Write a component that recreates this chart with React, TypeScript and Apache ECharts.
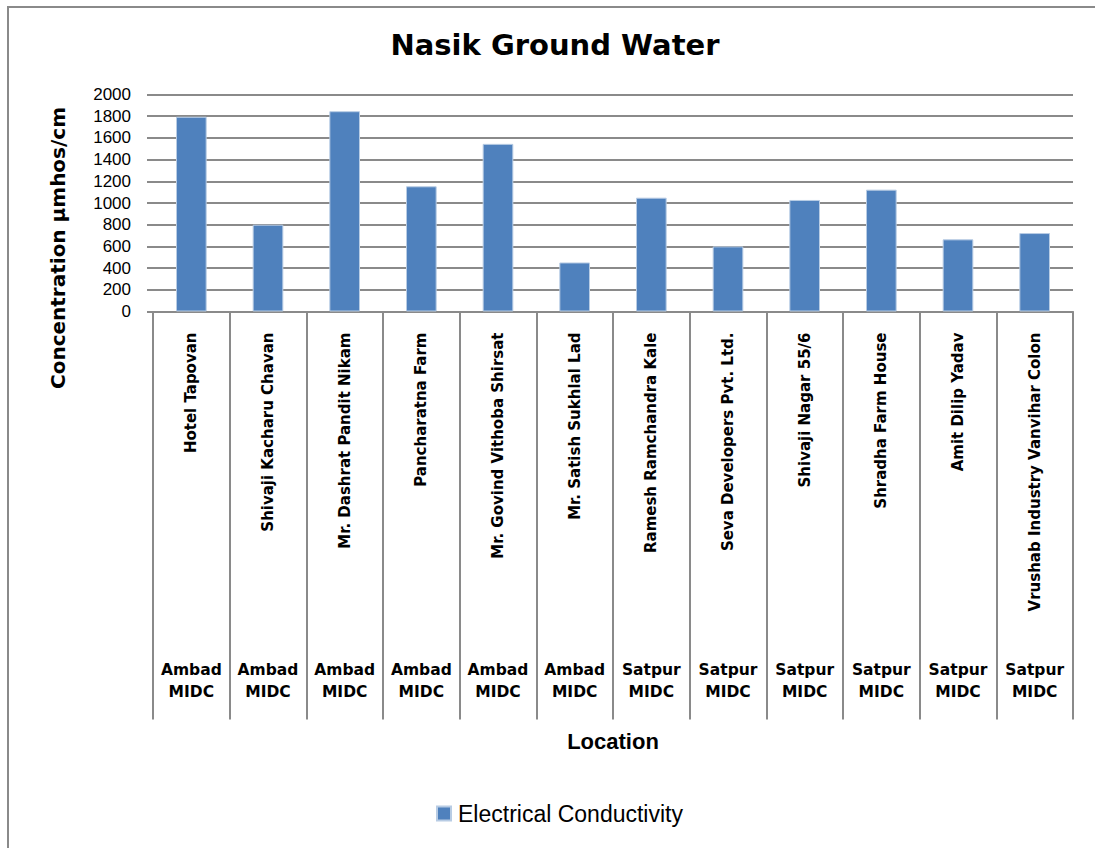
import React, { useEffect, useRef } from "react";
import * as echarts from "echarts";

const categories = [
  "Hotel Tapovan",
  "Shivaji Kacharu Chavan",
  "Mr. Dashrat Pandit Nikam",
  "Pancharatna Farm",
  "Mr. Govind Vithoba Shirsat",
  "Mr. Satish Sukhlal Lad",
  "Ramesh Ramchandra Kale",
  "Seva Developers Pvt. Ltd.",
  "Shivaji Nagar 55/6",
  "Shradha Farm House",
  "Amit Dilip Yadav",
  "Vrushab Industry Vanvihar Colon",
];
const groups = [
  "Ambad\nMIDC", "Ambad\nMIDC", "Ambad\nMIDC", "Ambad\nMIDC", "Ambad\nMIDC", "Ambad\nMIDC",
  "Satpur\nMIDC", "Satpur\nMIDC", "Satpur\nMIDC", "Satpur\nMIDC", "Satpur\nMIDC", "Satpur\nMIDC",
];
const conductivity = [1795, 800, 1846, 1154, 1545, 452, 1049, 600, 1028, 1123, 665, 723];
const seriesName = "Electrical Conductivity";
const chartTitle = "Nasik Ground Water";
const yAxisTitle = "Concentration µmhos/cm";
const xAxisTitle = "Location";

export default function App() {
  const ref = useRef<HTMLDivElement>(null);
  useEffect(() => {
    if (!ref.current) return;
    const chart = echarts.init(ref.current, undefined, { renderer: "svg" });
    const gray = "#8a8a8a";
    chart.setOption({
      animation: false,
      backgroundColor: "#ffffff",
      grid: { left: 153, right: 22, top: 94.5, bottom: 536.5, containLabel: false },
      xAxis: [
        {
          type: "category",
          data: categories,
          position: "bottom",
          axisLine: { show: true, onZero: false, lineStyle: { color: gray, width: 2 } },
          axisTick: { show: true, interval: 0, length: 408, lineStyle: { color: gray, width: 2 } },
          axisLabel: {
            interval: 0,
            rotate: 90,
            margin: 21,
            color: "#000",
            fontFamily: "DejaVu Sans",
            fontWeight: "bold",
            fontSize: 15,
          },
        },
        {
          type: "category",
          data: groups,
          position: "bottom",
          axisLine: { show: false, onZero: false },
          axisTick: { show: false },
          axisLabel: {
            interval: 0,
            margin: 347,
            color: "#000",
            fontFamily: "DejaVu Sans",
            fontWeight: "bold",
            fontSize: 15.5,
            lineHeight: 22,
          },
        },
      ],
      yAxis: {
        type: "value",
        min: 0,
        max: 2000,
        interval: 200,
        axisLine: { show: false },
        axisTick: { show: true, length: 6, lineStyle: { color: gray, width: 2 } },
        axisLabel: {
          margin: 22,
          color: "#000",
          fontFamily: "Liberation Sans",
          fontSize: 17,
          formatter: (v: number) => String(v),
        },
        splitLine: { show: true, lineStyle: { color: gray, width: 2 } },
      },
      legend: {
        data: [seriesName],
        left: 431,
        top: 797,
        icon: "rect",
        itemWidth: 14,
        itemHeight: 14,
        textStyle: {
          color: "#000",
          fontFamily: "Liberation Sans",
          fontSize: 23,
          padding: [0, 0, 0, 2],
        },
      },
      graphic: [
        {
          type: "rect",
          shape: { x: 8, y: 7, width: 1200, height: 1000 },
          style: { fill: "none", stroke: gray, lineWidth: 2 },
          silent: true,
        },
        {
          type: "text",
          x: 555,
          y: 45,
          style: {
            text: chartTitle,
            fill: "#000",
            font: 'bold 29px "DejaVu Sans"',
            align: "center",
            verticalAlign: "middle",
          },
        },
        {
          type: "text",
          x: 58,
          y: 248,
          rotation: Math.PI / 2,
          style: {
            text: yAxisTitle,
            fill: "#000",
            font: 'bold 20px "DejaVu Sans"',
            align: "center",
            verticalAlign: "middle",
          },
        },
        {
          type: "text",
          x: 613,
          y: 741,
          style: {
            text: xAxisTitle,
            fill: "#000",
            font: 'bold 22px "Liberation Sans"',
            align: "center",
            verticalAlign: "middle",
          },
        },
      ],
      series: [
        {
          name: seriesName,
          type: "bar",
          data: conductivity,
          barWidth: "40%",
          itemStyle: { color: "#4F81BD", borderColor: "#b8cce4", borderWidth: 1 },
        },
      ],
    });
    return () => chart.dispose();
  }, []);
  return (
    <div
      ref={ref}
      style={{ position: "absolute", left: 0, top: 0, width: 1095, height: 848 }}
    />
  );
}
